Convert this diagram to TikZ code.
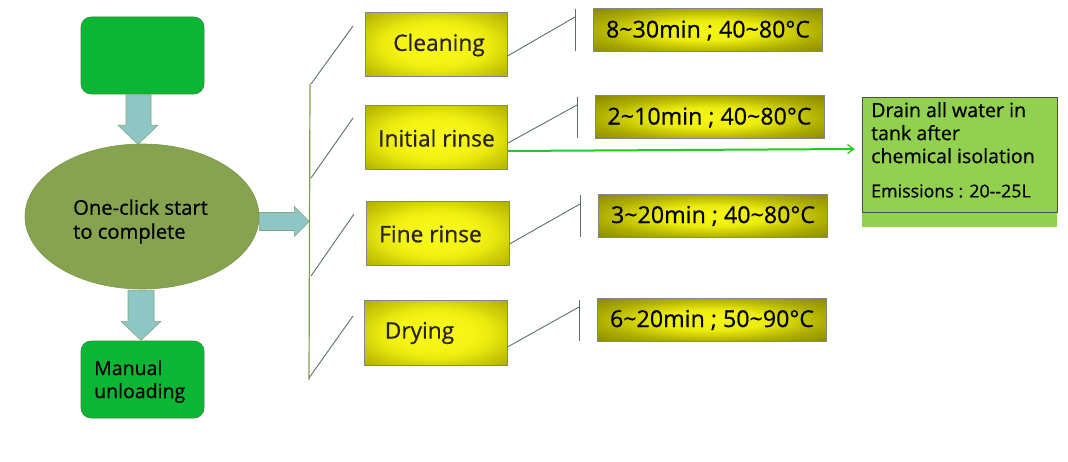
\documentclass[tikz,border=0pt]{standalone}
\usepackage{fontspec}
\setmainfont{Open Sans}[FakeBold=0.6]
\usetikzlibrary{shapes.geometric,arrows.meta,calc}
\definecolor{grnbox}{HTML}{0BB634}
\definecolor{grnedge}{HTML}{2E8B3A}
\definecolor{ellfill}{HTML}{86A350}
\definecolor{elledge}{HTML}{7A9448}
\definecolor{teal}{HTML}{8EC6C5}
\definecolor{tealedge}{HTML}{7FA878}
\definecolor{boxedge}{HTML}{7C8A86}
\definecolor{lineg}{HTML}{5E6E66}
\definecolor{vline}{HTML}{7E9A4A}
\definecolor{drain}{HTML}{92D050}
\definecolor{brightg}{HTML}{22CC22}
\definecolor{txt}{HTML}{2A2222}
\pgfdeclareradialshading{yshade}{\pgfpoint{0bp}{0bp}}{%
  color(0bp)=(rgb,255:red,248;green,248;blue,26);
  color(14bp)=(rgb,255:red,243;green,243;blue,20);
  color(20bp)=(rgb,255:red,232;green,232;blue,14);
  color(25bp)=(rgb,255:red,212;green,212;blue,10);
  color(35bp)=(rgb,255:red,178;green,176;blue,0);
  color(50bp)=(rgb,255:red,178;green,176;blue,0)}
\pgfdeclareradialshading{ishade}{\pgfpoint{0bp}{0bp}}{%
  color(0bp)=(rgb,255:red,246;green,246;blue,22);
  color(12bp)=(rgb,255:red,236;green,236;blue,14);
  color(25bp)=(rgb,255:red,172;green,172;blue,0);
  color(35bp)=(rgb,255:red,140;green,138;blue,0);
  color(50bp)=(rgb,255:red,140;green,138;blue,0)}
\newcommand\stf{\fontsize{22.7}{24}\selectfont}
\tikzset{
  greenrect/.style={draw=grnedge, line width=0.6pt, fill=grnbox, rounded corners=10pt, minimum width=123pt, minimum height=77pt, inner sep=0pt},
  stepbox/.style={draw=boxedge, line width=1pt, shading=yshade, minimum width=142pt, minimum height=64pt, inner sep=0pt, font=\stf, text=txt},
  infobox/.style={draw=boxedge, line width=1pt, shading=ishade, minimum width=229pt, minimum height=43pt, inner sep=0pt, font=\fontsize{23.2}{24}\selectfont, text=black},
  blockarrow/.style={fill=teal, draw=tealedge, line width=0.6pt},
  thin/.style={draw=lineg, line width=0.9pt},
}
\begin{document}
\begin{tikzpicture}[x=1pt,y=-1pt]
\useasboundingbox (0,0) rectangle (1068,462);

% left column
\node[greenrect] (top) at (142.5,55.5) {};
\node[ellipse, fill=ellfill, draw=elledge, line width=0.6pt, minimum width=234pt, minimum height=145pt, inner sep=0pt] (ell) at (142,216.5) {};
\node[anchor=west, align=left, inner sep=0pt, font=\fontsize{20.2}{24}\selectfont, text=black] (elltext) at (73,221.5) {One-click start\\to complete};
\node[greenrect] (bot) at (142.5,379.5) {};
\node[anchor=west, align=left, inner sep=0pt, font=\fontsize{19.5}{23}\selectfont, text=black] (bottext) at (94,381.5) {Manual\\unloading};

% block arrows
\path[blockarrow] ($(top.south)+(-16.5,0)$) -- ++(25,0) -- ++(0,31) -- ++(7,0) -- ++(-20,19) -- ++(-20,-19) -- ++(8,0) -- cycle;
\path[blockarrow] ($(ell.south)+(-14,1)$) -- ++(26,0) -- ++(0,31) -- ++(7,0) -- ++(-20,19) -- ++(-20,-19) -- ++(7,0) -- cycle;
\path[blockarrow] ($(ell.east)+(0,-4)$) -- ++(35,0) -- ++(0,-6) -- ++(15,15) -- ++(-15,15) -- ++(0,-6) -- ++(-35,0) -- cycle;

% vertical bar
\coordinate (vtop) at (310,84);
\coordinate (vbot) at (309,380);
\draw[draw=vline, line width=1.2pt] (vtop) -- (vbot);

% step boxes
\node[stepbox] (clean) at (436,45) {\hspace*{6pt}Cleaning};
\node[stepbox] (irinse) at (436.5,138) {Initial rinse};
\node[stepbox, minimum width=143pt] (frinse) at (437.5,234) {Fine rinse\hspace*{14pt}};
\node[stepbox, minimum width=143pt] (dry) at (435.5,333) {Drying\hspace*{32pt}};

% diagonals
\draw[thin] (311,84) -- (353,26);
\draw[thin] (311,178) -- (353,118);
\draw[thin] (311,276) -- (354,214);
\draw[thin] (309,378) -- (353,316);

% info boxes
\node[infobox] (i1) at (708,30.5) {8\textasciitilde 30min ; 40\textasciitilde 80°C};
\node[infobox] (i2) at (709.5,117.5) {2\textasciitilde 10min ; 40\textasciitilde 80°C};
\node[infobox] (i3) at (713,216) {3\textasciitilde 20min ; 40\textasciitilde 80°C};
\node[infobox] (i4) at (712,320) {6\textasciitilde 20min ; 50\textasciitilde 90°C};

% ticks and connectors
\coordinate (t1a) at (575,9);  \coordinate (t1b) at (575,51);
\coordinate (t2a) at (577,97); \coordinate (t2b) at (577,138);
\coordinate (t3a) at (580,195); \coordinate (t3b) at (580,237);
\coordinate (t4a) at (579,300); \coordinate (t4b) at (579,341);
\draw[thin] (t1a) -- (t1b);
\draw[thin] (t2a) -- (t2b);
\draw[thin] (t3a) -- (t3b);
\draw[thin] (t4a) -- (t4b);
\draw[thin] ([yshift=-11pt]clean.east) -- (575,17);
\draw[thin] ([yshift=-5pt]irinse.east) -- (577,105);
\draw[thin] ([yshift=-10pt]frinse.east) -- (580,204);
\draw[thin] ([yshift=-14pt]dry.east) -- (579,307);

% drain box
\fill[drain] (862,212) rectangle (1057,227);
\node[draw=black!70, line width=0.8pt, fill=drain, minimum width=195pt, minimum height=115pt, inner sep=0pt] (drainbox) at (959.5,154.5) {};
\node[anchor=north west, align=left, inner sep=0pt, font=\fontsize{19.6}{23}\selectfont, text=black] (draintext) at (871,102) {Drain all water in\\tank after\\chemical isolation};
\node[anchor=west, inner sep=0pt, font=\fontsize{17.8}{18}\selectfont, text=black] (emis) at (871,191) {Emissions : 20-{}-25L};

% green arrow
\draw[draw=brightg, line width=2pt, -{Straight Barb[length=6pt,width=9pt,line width=1.3pt]}] ([yshift=-13pt]irinse.east) -- ([xshift=-7pt,yshift=5.5pt]drainbox.west);
\end{tikzpicture}
\end{document}
